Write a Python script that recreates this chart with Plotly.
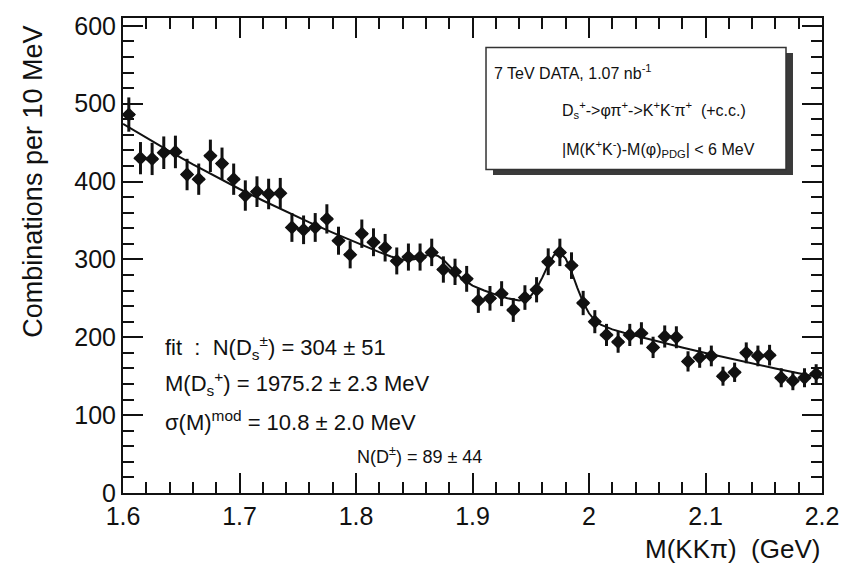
import plotly.graph_objects as go

# --- binned KKpi invariant mass spectrum (10 MeV bins) ---
bin_centers = [round(1.605 + 0.01 * i, 3) for i in range(60)]
counts = [486, 430, 429, 437, 438, 409, 403, 433, 423, 403,
          382, 387, 384, 385, 341, 338, 341, 352, 324, 306,
          333, 322, 315, 298, 303, 303, 309, 287, 284, 275,
          247, 250, 256, 235, 251, 261, 297, 309, 292, 244,
          220, 203, 194, 203, 205, 187, 201, 200, 169, 174,
          176, 150, 155, 180, 176, 177, 148, 144, 148, 153]
count_errors = [22.0, 20.7, 20.7, 20.9, 20.9, 20.2, 20.1, 20.8, 20.6, 20.1,
                19.5, 19.7, 19.6, 19.6, 18.5, 18.4, 18.5, 18.8, 18.0, 17.5,
                18.2, 17.9, 17.7, 17.3, 17.4, 17.4, 17.6, 16.9, 16.9, 16.6,
                15.7, 15.8, 16.0, 15.3, 15.8, 16.2, 17.2, 17.6, 17.1, 15.6,
                14.8, 14.2, 13.9, 14.2, 14.3, 13.7, 14.2, 14.1, 13.0, 13.2,
                13.3, 12.2, 12.4, 13.4, 13.3, 13.3, 12.2, 12.0, 12.2, 12.4]
bin_half_width = 0.005

# --- fitted curve (background + D+ and Ds peaks), sampled ---
fit_x = [1.60, 1.62, 1.64, 1.66, 1.68, 1.70, 1.72, 1.74, 1.76, 1.78,
         1.80, 1.82, 1.83, 1.84, 1.845, 1.85, 1.855, 1.86, 1.865, 1.87,
         1.875, 1.88, 1.885, 1.89, 1.90, 1.91, 1.92, 1.93, 1.94, 1.945,
         1.95, 1.955, 1.96, 1.965, 1.97, 1.975, 1.98, 1.985, 1.99, 1.995,
         2.00, 2.005, 2.01, 2.02, 2.03, 2.04, 2.06, 2.08, 2.10, 2.12,
         2.14, 2.16, 2.18, 2.20]
fit_y = [474.0, 456.0, 438.6, 421.9, 405.9, 390.4, 375.6, 361.3, 347.5, 334.3,
         321.6, 309.3, 303.7, 299.6, 299.1, 300.0, 302.4, 305.1, 306.4, 304.7,
         299.6, 292.1, 284.0, 276.6, 266.3, 260.0, 254.8, 250.1, 247.2, 248.3,
         253.0, 262.6, 276.9, 293.0, 305.5, 309.0, 301.1, 284.1, 263.5, 244.8,
         230.8, 221.7, 216.1, 210.1, 205.8, 201.9, 194.2, 186.8, 179.7, 172.8,
         166.3, 159.9, 153.9, 148.0]

x_ticks = [1.6, 1.7, 1.8, 1.9, 2.0, 2.1, 2.2]
x_tick_labels = ["1.6", "1.7", "1.8", "1.9", "2", "2.1", "2.2"]
y_ticks = [0, 100, 200, 300, 400, 500, 600]
y_tick_labels = ["0", "100", "200", "300", "400", "500", "600"]

FONT = "Liberation Sans, Arial, Helvetica, sans-serif"
INK = "#111111"

fig = go.Figure()

fig.add_trace(go.Scatter(
    x=fit_x, y=fit_y, mode="lines",
    line=dict(color=INK, width=2), hoverinfo="skip", showlegend=False,
))

fig.add_trace(go.Scatter(
    x=bin_centers, y=counts, mode="markers",
    marker=dict(symbol="diamond", size=11, color=INK),
    error_y=dict(type="data", array=count_errors, visible=True,
                 color=INK, thickness=3, width=0),
    error_x=dict(type="constant", value=bin_half_width, visible=True,
                 color=INK, thickness=3, width=0),
    showlegend=False,
))

# info box with drop shadow
box_x0, box_x1, box_y0, box_y1 = 1.9116, 2.1691, 415.3, 572.0
fig.add_shape(type="rect", xref="x", yref="y",
              x0=box_x0 + 0.006, x1=box_x1 + 0.006,
              y0=box_y0 - 7, y1=box_y1 - 7,
              fillcolor="#3a3a3a", line=dict(width=0), layer="above")
fig.add_shape(type="rect", xref="x", yref="y",
              x0=box_x0, x1=box_x1, y0=box_y0, y1=box_y1,
              fillcolor="white", line=dict(color="#333333", width=1.5),
              layer="above")

annotations = [
    dict(x=1.9167, y=541, text="7 TeV DATA, 1.07 nb<sup>-1</sup>", size=16),
    dict(x=1.9751, y=492,
         text="D<sub>s</sub><sup>+</sup>->φπ<sup>+</sup>->K<sup>+</sup>K<sup>-</sup>π<sup>+</sup>  (+c.c.)",
         size=16),
    dict(x=1.9751, y=442,
         text="|M(K<sup>+</sup>K<sup>-</sup>)-M(φ)<sub>PDG</sub>| &lt; 6 MeV",
         size=16),
    dict(x=1.6343, y=187, text="fit  :  N(D<sub>s</sub><sup>±</sup>) = 304 ± 51", size=22),
    dict(x=1.6343, y=140, text="M(D<sub>s</sub><sup>+</sup>) = 1975.2 ± 2.3 MeV", size=22),
    dict(x=1.6343, y=92, text="σ(M)<sup>mod</sup> = 10.8 ± 2.0 MeV", size=22),
    dict(x=1.7991, y=48, text="N(D<sup>±</sup>) = 89 ± 44", size=18),
]
for a in annotations:
    fig.add_annotation(x=a["x"], y=a["y"], xref="x", yref="y", text=a["text"],
                       showarrow=False, xanchor="left", yanchor="middle",
                       font=dict(family=FONT, size=a["size"], color=INK))

# axis titles
fig.add_annotation(x=-0.129, y=0.655, xref="paper", yref="paper",
                   text="Combinations per 10 MeV", textangle=-90,
                   showarrow=False, xanchor="center", yanchor="middle",
                   font=dict(family=FONT, size=27, color=INK))
fig.add_annotation(x=1.0, y=-0.118, xref="paper", yref="paper",
                   text="M(KKπ)  (GeV)", showarrow=False,
                   xanchor="right", yanchor="middle",
                   font=dict(family=FONT, size=26, color=INK))

axis_common = dict(
    showgrid=False, zeroline=False, showline=True, linecolor=INK, linewidth=2,
    mirror="ticks", ticks="inside", tickcolor=INK, tickwidth=2, ticklen=20,
    tickfont=dict(family=FONT, size=25, color=INK),
)

fig.update_xaxes(range=[1.6, 2.2], tickvals=x_ticks, ticktext=x_tick_labels,
                 minor=dict(dtick=0.02, ticks="inside", ticklen=11,
                            tickcolor=INK, tickwidth=2, tick0=1.6),
                 **axis_common)
fig.update_yaxes(range=[0, 610], tickvals=y_ticks, ticktext=y_tick_labels,
                 minor=dict(dtick=20, ticks="inside", ticklen=11,
                            tickcolor=INK, tickwidth=2, tick0=0),
                 **axis_common)

fig.update_layout(
    width=857, height=565,
    margin=dict(l=123, r=35, t=14, b=72),
    paper_bgcolor="white", plot_bgcolor="white",
    font=dict(family=FONT, color=INK),
    showlegend=False,
)

fig.write_html("out.html")
